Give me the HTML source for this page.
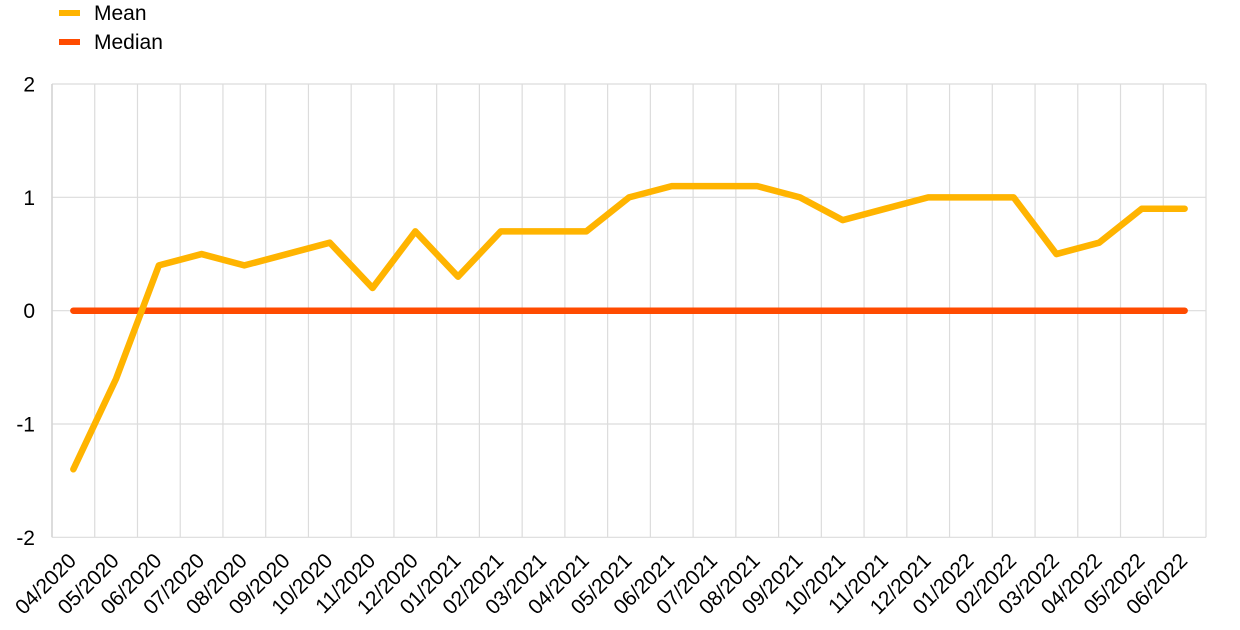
<!DOCTYPE html>
<html><head><meta charset="utf-8"><style>
html,body{margin:0;padding:0;background:#fff;}
svg{display:block;font-family:"Liberation Sans",Arial,sans-serif;}
</style></head><body>
<svg width="1240" height="630" viewBox="0 0 1240 630" xmlns="http://www.w3.org/2000/svg">
<rect width="1240" height="630" fill="#fff"/>
<!-- legend -->
<rect x="59" y="10" width="21" height="6" fill="#FFB400"/>
<text x="94" y="20" font-size="21" fill="#000">Mean</text>
<rect x="59" y="39" width="21" height="6" fill="#FF4B00"/>
<text x="94" y="49" font-size="21" fill="#000">Median</text>
<!-- grid -->
<g stroke="#dcdcdc" stroke-width="1.2" fill="none">
<line x1="52" y1="84" x2="1206" y2="84"/>
<line x1="52" y1="197.3" x2="1206" y2="197.3"/>
<line x1="52" y1="310.7" x2="1206" y2="310.7"/>
<line x1="52" y1="424" x2="1206" y2="424"/>
<line x1="52" y1="537.3" x2="1206" y2="537.3"/>
<line x1="94.74" y1="84" x2="94.74" y2="537.3"/>
<line x1="137.48" y1="84" x2="137.48" y2="537.3"/>
<line x1="180.22" y1="84" x2="180.22" y2="537.3"/>
<line x1="222.96" y1="84" x2="222.96" y2="537.3"/>
<line x1="265.70" y1="84" x2="265.70" y2="537.3"/>
<line x1="308.44" y1="84" x2="308.44" y2="537.3"/>
<line x1="351.19" y1="84" x2="351.19" y2="537.3"/>
<line x1="393.93" y1="84" x2="393.93" y2="537.3"/>
<line x1="436.67" y1="84" x2="436.67" y2="537.3"/>
<line x1="479.41" y1="84" x2="479.41" y2="537.3"/>
<line x1="522.15" y1="84" x2="522.15" y2="537.3"/>
<line x1="564.89" y1="84" x2="564.89" y2="537.3"/>
<line x1="607.63" y1="84" x2="607.63" y2="537.3"/>
<line x1="650.37" y1="84" x2="650.37" y2="537.3"/>
<line x1="693.11" y1="84" x2="693.11" y2="537.3"/>
<line x1="735.85" y1="84" x2="735.85" y2="537.3"/>
<line x1="778.59" y1="84" x2="778.59" y2="537.3"/>
<line x1="821.33" y1="84" x2="821.33" y2="537.3"/>
<line x1="864.07" y1="84" x2="864.07" y2="537.3"/>
<line x1="906.81" y1="84" x2="906.81" y2="537.3"/>
<line x1="949.56" y1="84" x2="949.56" y2="537.3"/>
<line x1="992.30" y1="84" x2="992.30" y2="537.3"/>
<line x1="1035.04" y1="84" x2="1035.04" y2="537.3"/>
<line x1="1077.78" y1="84" x2="1077.78" y2="537.3"/>
<line x1="1120.52" y1="84" x2="1120.52" y2="537.3"/>
<line x1="1163.26" y1="84" x2="1163.26" y2="537.3"/>
<line x1="1206" y1="84" x2="1206" y2="537.3"/>
</g>
<line x1="52" y1="84" x2="52" y2="537.3" stroke="#d4d4d4" stroke-width="1.6"/>
<!-- y labels -->
<g font-size="21" fill="#000" text-anchor="end">
<text x="35" y="91.5">2</text>
<text x="35" y="204.8">1</text>
<text x="35" y="318.2">0</text>
<text x="35" y="431.5">-1</text>
<text x="35" y="544.8">-2</text>
</g>
<!-- series -->
<polyline fill="none" stroke="#FF4B00" stroke-width="6.5" stroke-linecap="round" points="73.37,310.7 1184.63,310.7"/>
<polyline fill="none" stroke="#FFB400" stroke-width="6.5" stroke-linecap="round" stroke-linejoin="round" points="73.37,469.3 116.11,378.7 158.85,265.4 201.59,254.05 244.33,265.4 287.07,254.05 329.81,242.7 372.55,288.0 415.30,231.4 458.04,276.7 500.78,231.4 543.52,231.4 586.26,231.4 629.00,197.4 671.74,186.1 714.48,186.1 757.22,186.1 799.96,197.4 842.70,220.1 885.44,208.7 928.18,197.4 970.93,197.4 1013.67,197.4 1056.41,254.05 1099.15,242.7 1141.89,208.7 1184.63,208.7"/>
<!-- x labels -->
<g font-size="21" fill="#000" text-anchor="end">
<text transform="translate(77.4,562) rotate(-45)">04/2020</text>
<text transform="translate(120.1,562) rotate(-45)">05/2020</text>
<text transform="translate(162.9,562) rotate(-45)">06/2020</text>
<text transform="translate(205.6,562) rotate(-45)">07/2020</text>
<text transform="translate(248.3,562) rotate(-45)">08/2020</text>
<text transform="translate(291.1,562) rotate(-45)">09/2020</text>
<text transform="translate(333.8,562) rotate(-45)">10/2020</text>
<text transform="translate(376.6,562) rotate(-45)">11/2020</text>
<text transform="translate(419.3,562) rotate(-45)">12/2020</text>
<text transform="translate(462.0,562) rotate(-45)">01/2021</text>
<text transform="translate(504.8,562) rotate(-45)">02/2021</text>
<text transform="translate(547.5,562) rotate(-45)">03/2021</text>
<text transform="translate(590.3,562) rotate(-45)">04/2021</text>
<text transform="translate(633.0,562) rotate(-45)">05/2021</text>
<text transform="translate(675.7,562) rotate(-45)">06/2021</text>
<text transform="translate(718.5,562) rotate(-45)">07/2021</text>
<text transform="translate(761.2,562) rotate(-45)">08/2021</text>
<text transform="translate(804.0,562) rotate(-45)">09/2021</text>
<text transform="translate(846.7,562) rotate(-45)">10/2021</text>
<text transform="translate(889.4,562) rotate(-45)">11/2021</text>
<text transform="translate(932.2,562) rotate(-45)">12/2021</text>
<text transform="translate(974.9,562) rotate(-45)">01/2022</text>
<text transform="translate(1017.7,562) rotate(-45)">02/2022</text>
<text transform="translate(1060.4,562) rotate(-45)">03/2022</text>
<text transform="translate(1103.2,562) rotate(-45)">04/2022</text>
<text transform="translate(1145.9,562) rotate(-45)">05/2022</text>
<text transform="translate(1188.6,562) rotate(-45)">06/2022</text>
</g>
</svg>
</body></html>
